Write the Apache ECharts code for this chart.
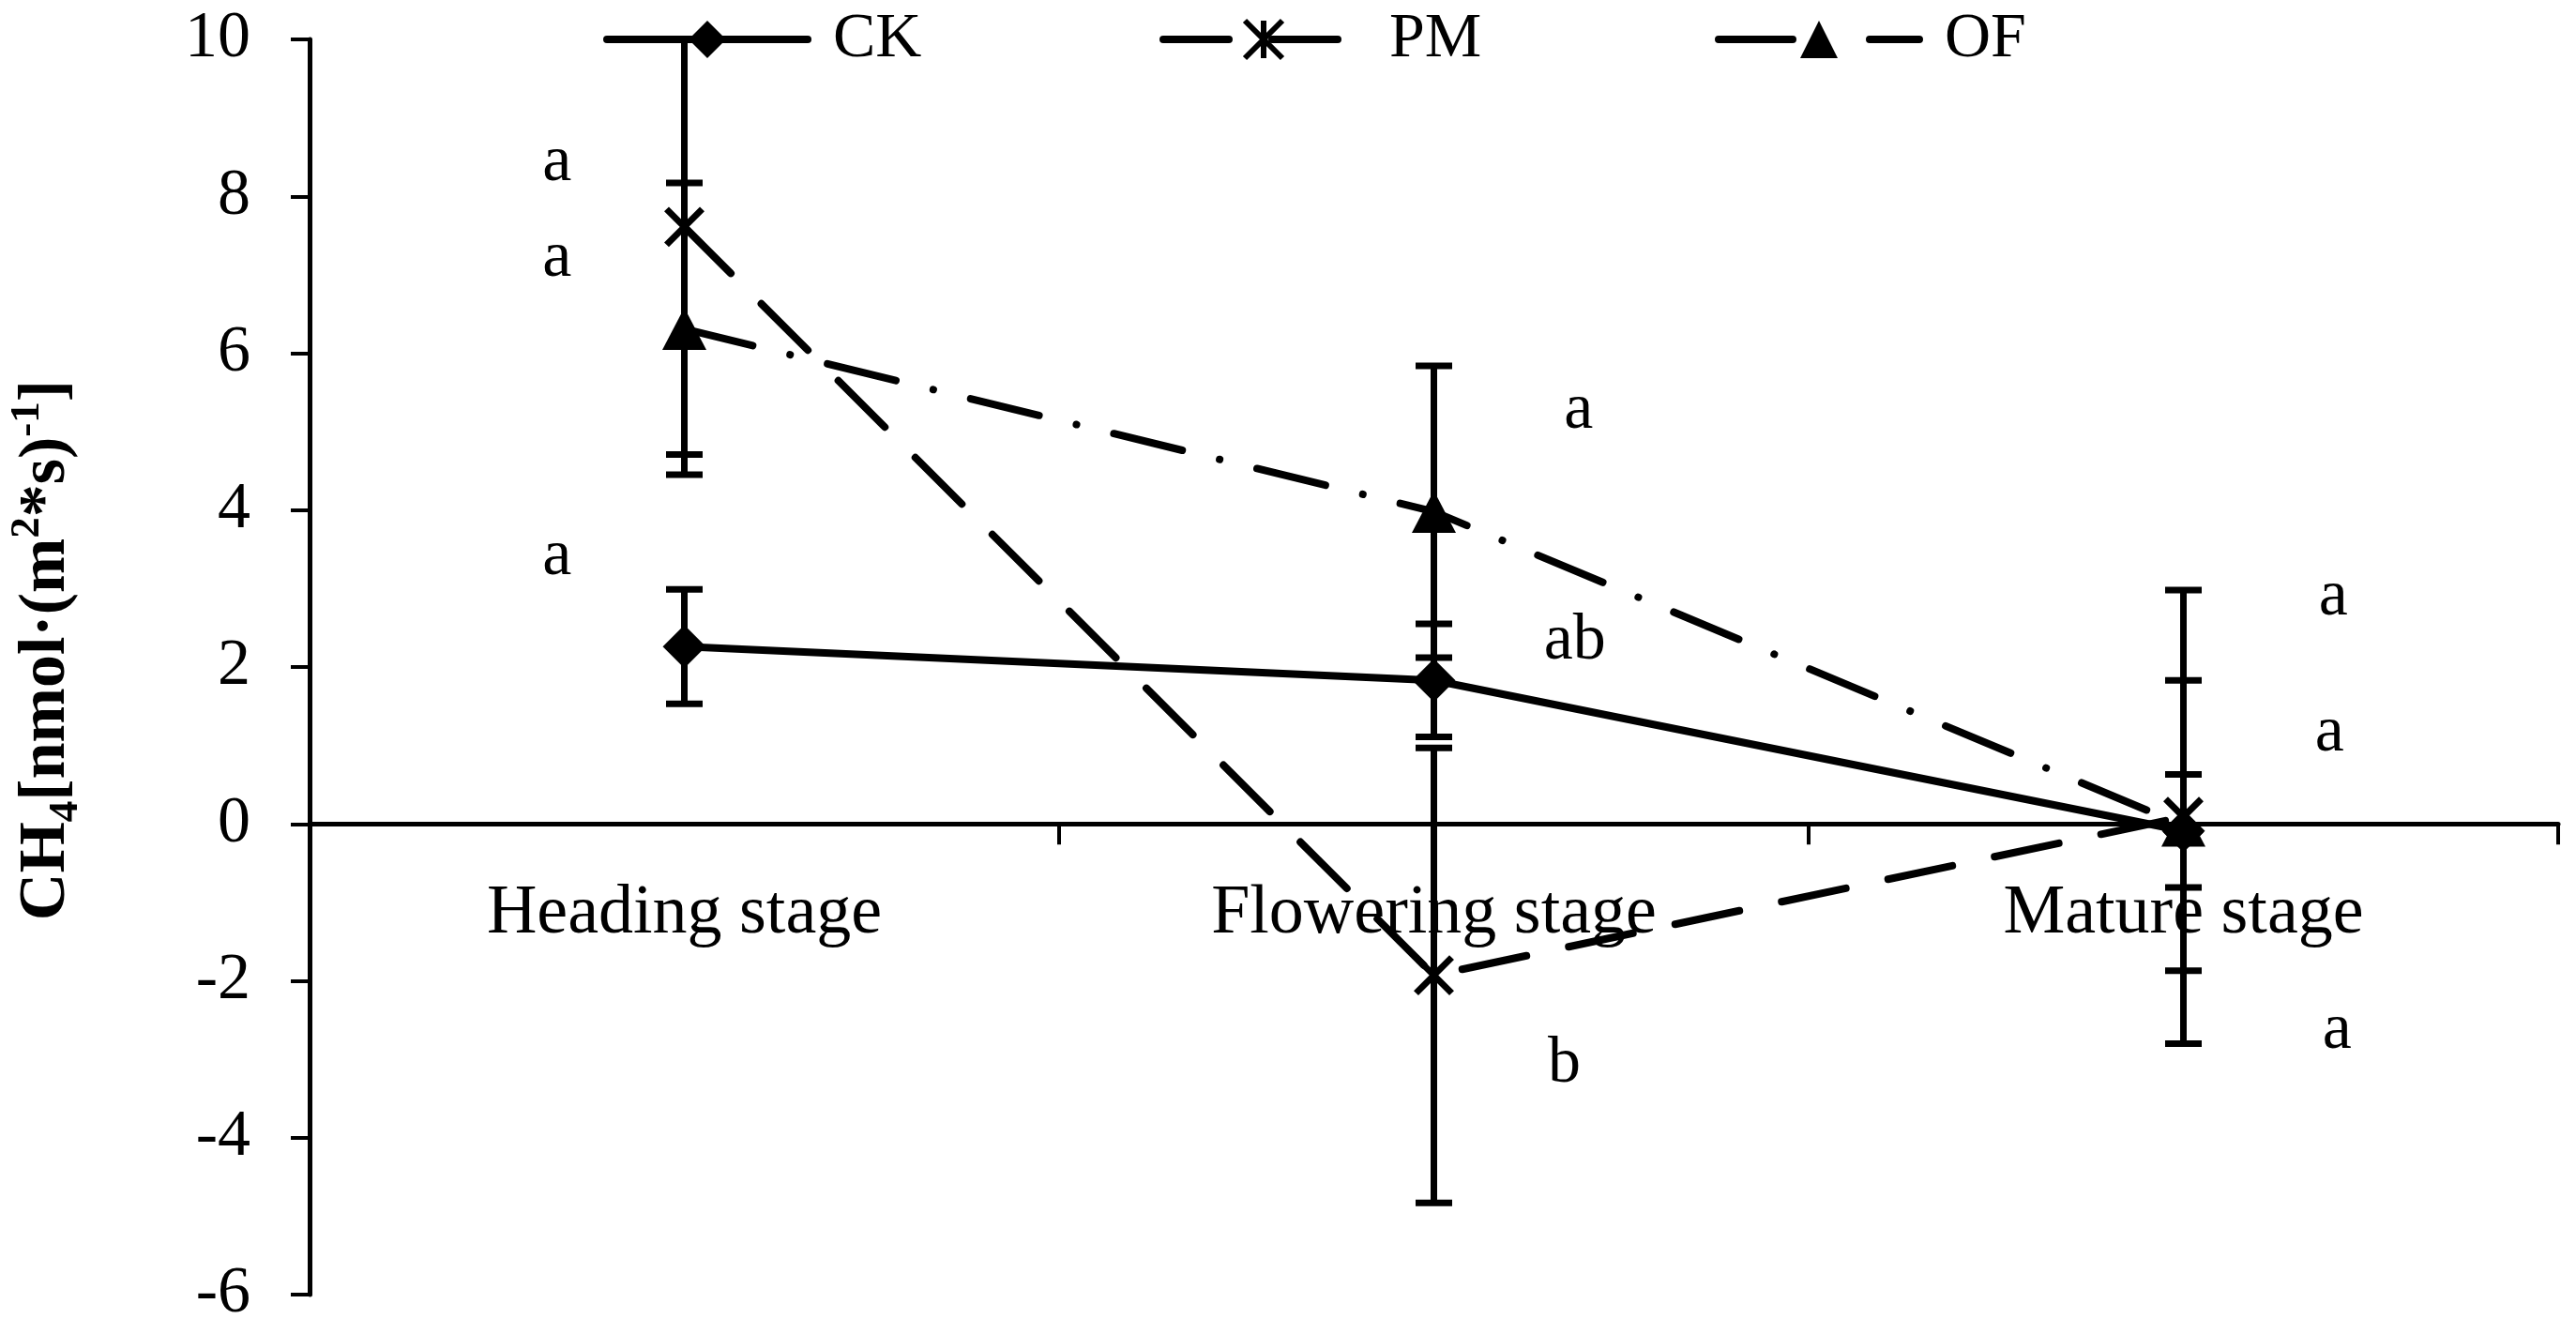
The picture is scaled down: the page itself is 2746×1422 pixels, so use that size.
<!DOCTYPE html>
<html><head><meta charset="utf-8">
<script src="https://cdn.jsdelivr.net/npm/echarts@6/dist/echarts.min.js"></script>
<style>html,body{margin:0;padding:0;background:#fff}#c{width:2746px;height:1422px}</style>
</head><body><div id="c"></div>
<script>
// ---- data ----
const categories = ['Heading stage', 'Flowering stage', 'Mature stage'];
const seriesNames = ['CK', 'PM', 'OF'];
const ckValues = [2.26, 1.83, -0.09];
const ckErrors = [0.73, 0.72, 0.72];
const pmValues = [7.61, -1.93, 0.09];
const pmErrors = [2.90, 2.90, 2.89];
const ofValues = [6.31, 3.98, -0.02];
const ofErrors = [1.86, 1.86, 1.85];
const yMin = -6, yMax = 10, yInterval = 2;
// significance letters (category index, offset within category band, value, text)
const letterCats = [0, 0, 0, 1, 1, 1, 2, 2, 2];
const letterOffsets = [-0.17, -0.17, -0.17, 0.193, 0.188, 0.174, 0.2, 0.195, 0.205];
const letterValues = [8.43, 7.21, 3.40, 5.27, 2.33, -3.07, 2.89, 1.16, -2.63];
const letterTexts = ['a', 'a', 'a', 'a', 'ab', 'b', 'a', 'a', 'a'];

const FONT = '"Liberation Serif","Times New Roman",serif';

const errData = [];
[[ckValues, ckErrors], [pmValues, pmErrors], [ofValues, ofErrors]].forEach(([v, e]) => {
  v.forEach((val, i) => errData.push([i, val - e[i], val + e[i]]));
});

const lineStyles = {
  CK: { color: '#000', width: 8, type: 'solid', cap: 'round' },
  PM: { color: '#000', width: 8, type: [70, 46], cap: 'round' },
  OF: { color: '#000', width: 8, type: [75, 41, 0.1, 41], cap: 'round' }
};
const starPath = 'path://M0,0L10,10M10,0L0,10M5,0L5,10';
const legendBase = {
  top: 3, itemWidth: 214, itemHeight: 50, selectedMode: false,
  textStyle: { color: '#000', fontSize: 68, fontFamily: FONT, padding: [0, 0, 0, 22] }
};

const chart = echarts.init(document.getElementById('c'), null, { renderer: 'canvas' });
chart.setOption({
  animation: false,
  backgroundColor: '#fff',
  grid: { left: 330, right: 19, top: 42, bottom: 42, containLabel: false, outerBoundsMode: 'none' },
  legend: [
    Object.assign({}, legendBase, { left: 638, data: [{ name: 'CK', lineStyle: lineStyles.CK }] }),
    Object.assign({}, legendBase, { left: 1231, data: [{ name: 'PM', lineStyle: lineStyles.PM, itemStyle: { borderWidth: 6, borderColor: '#000' } }] }),
    Object.assign({}, legendBase, { left: 1823, data: [{ name: 'OF', lineStyle: { color: '#000', width: 8, type: [79, 82], cap: 'round' } }] })
  ],
  xAxis: {
    type: 'category', data: categories, boundaryGap: true,
    axisLine: { onZero: true, lineStyle: { color: '#000', width: 5 } },
    axisTick: { show: true, length: 22, alignWithLabel: false, lineStyle: { color: '#000', width: 4 } },
    axisLabel: { show: false },
    splitLine: { show: false }
  },
  yAxis: {
    type: 'value', min: yMin, max: yMax, interval: yInterval,
    axisLine: { show: true, onZero: false, lineStyle: { color: '#000', width: 5 } },
    axisTick: { show: true, length: 20, lineStyle: { color: '#000', width: 4 } },
    axisLabel: { color: '#000', fontSize: 70, fontFamily: FONT, margin: 63 },
    splitLine: { show: false }
  },
  graphic: [{
    type: 'text', x: 50, y: 693, rotation: Math.PI / 2,
    style: {
      text: '{b|CH}{sub|4}{b|[nmol·(m}{sup|2}{b|*s)}{sup|-1}{b|]}',
      align: 'center', verticalAlign: 'middle', fill: '#000',
      rich: {
        b: { fontFamily: FONT, fontWeight: 'bold', fontSize: 70, lineHeight: 86, fill: '#000' },
        sub: { fontFamily: FONT, fontWeight: 'bold', fontSize: 45, lineHeight: 45, verticalAlign: 'bottom', fill: '#000' },
        sup: { fontFamily: FONT, fontWeight: 'bold', fontSize: 45, lineHeight: 45, verticalAlign: 'top', fill: '#000' }
      }
    }
  }],
  series: [
    {
      name: 'err', type: 'custom', data: errData, z: 1, silent: true,
      encode: { x: 0, y: [1, 2] },
      renderItem: function (params, api) {
        const i = api.value(0), lo = api.value(1), hi = api.value(2);
        const pLo = api.coord([i, Math.max(lo, yMin)]);
        const pHi = api.coord([i, Math.min(hi, yMax)]);
        const half = 19.5, st = { stroke: '#000', lineWidth: 7 };
        const ch = [{ type: 'line', shape: { x1: pLo[0], y1: pLo[1], x2: pHi[0], y2: pHi[1] }, style: st }];
        if (lo >= yMin) ch.push({ type: 'line', shape: { x1: pLo[0] - half, y1: pLo[1], x2: pLo[0] + half, y2: pLo[1] }, style: st });
        if (hi <= yMax) ch.push({ type: 'line', shape: { x1: pHi[0] - half, y1: pHi[1], x2: pHi[0] + half, y2: pHi[1] }, style: st });
        return { type: 'group', children: ch };
      }
    },
    {
      name: 'CK', type: 'line', data: ckValues, z: 3,
      symbol: 'diamond', symbolSize: [46, 46],
      lineStyle: lineStyles.CK,
      itemStyle: { color: '#000' }
    },
    {
      name: 'PM', type: 'line', data: pmValues, z: 3,
      symbol: starPath, symbolSize: 38,
      lineStyle: lineStyles.PM,
      itemStyle: { color: '#000', borderColor: '#000', borderWidth: 7 }
    },
    {
      name: 'OF', type: 'line', data: ofValues, z: 3,
      symbol: 'triangle', symbolSize: [47, 45],
      lineStyle: lineStyles.OF,
      itemStyle: { color: '#000' }
    },
    {
      name: 'letters', type: 'custom', silent: true, z: 4,
      data: letterCats.map((c, k) => [c, letterValues[k]]),
      encode: { x: 0, y: 1 },
      renderItem: function (params, api) {
        const k = params.dataIndex;
        const p = api.coord([api.value(0), api.value(1)]);
        const band = api.size([1, 0])[0];
        return {
          type: 'text', x: p[0] + letterOffsets[k] * band, y: p[1],
          style: { text: letterTexts[k], fill: '#000', font: '70px ' + FONT, align: 'center', verticalAlign: 'middle' }
        };
      }
    },
    {
      name: 'categoryLabels', type: 'custom', silent: true, z: 0,
      data: categories.map((c, i) => [i, 0]),
      encode: { x: 0, y: 1 },
      renderItem: function (params, api) {
        const p = api.coord([api.value(0), api.value(1)]);
        return {
          type: 'text', x: p[0], y: p[1] + 96,
          style: { text: categories[params.dataIndex], fill: '#000', font: '74px ' + FONT, align: 'center', verticalAlign: 'middle' }
        };
      }
    }
  ]
});
</script>
</body></html>
